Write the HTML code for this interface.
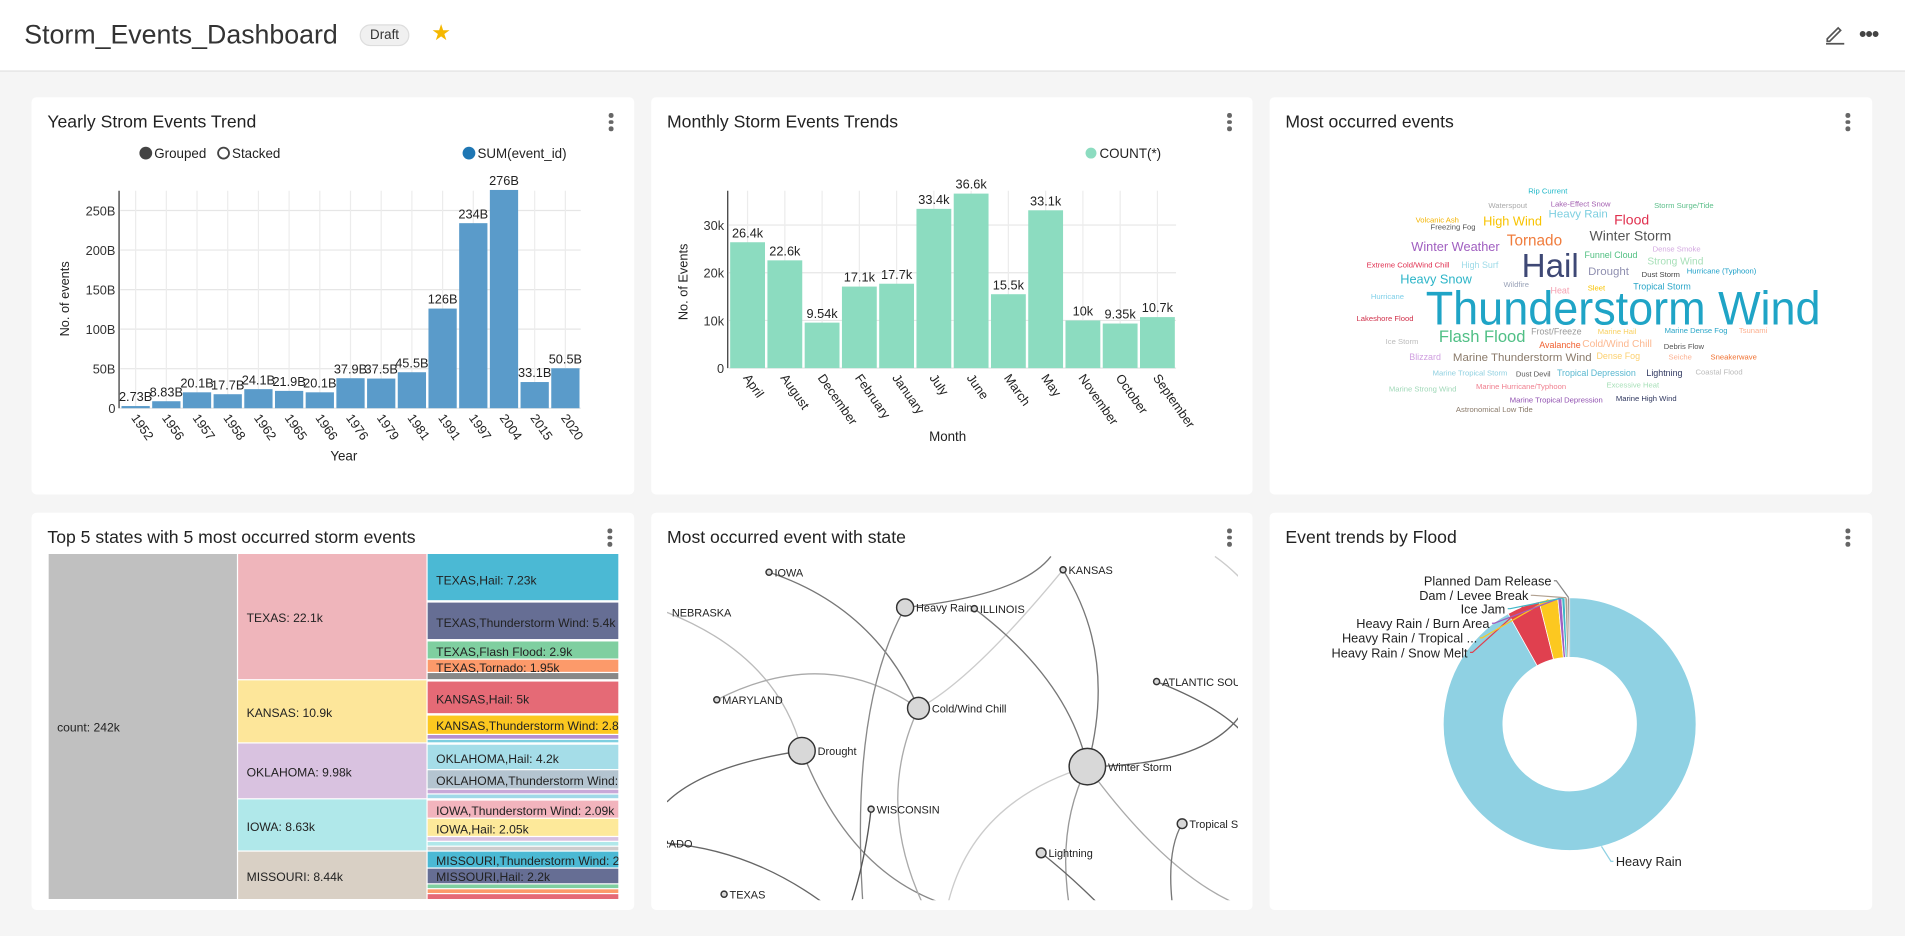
<!DOCTYPE html>
<html><head><meta charset="utf-8">
<style>
html,body{margin:0;padding:0;width:1905px;height:936px;overflow:hidden;background:#f5f5f5;font-family:"Liberation Sans",Arial,sans-serif;}
#root{position:absolute;left:0;top:0;width:1568px;height:770px;transform:scale(1.21492);transform-origin:0 0;background:#f5f5f5;}
.header{position:absolute;left:0;top:0;width:1568px;height:58px;background:#fff;border-bottom:1px solid #e0e0e0;}
.panel{position:absolute;background:#fff;border-radius:4px;}
.ptitle{position:absolute;left:13px;top:13px;font-size:14.5px;color:#222;}
.dots{position:absolute;top:13px;width:4px;}
.dots i{display:block;width:3.5px;height:3.5px;border-radius:50%;background:#666;margin-bottom:2px;}
svg text{font-family:"Liberation Sans",Arial,sans-serif;}
</style></head><body>
<div id="root">
<div class="header">
  <div style="position:absolute;left:20px;top:16px;font-size:22px;color:#333;">Storm_Events_Dashboard</div>
  <div style="position:absolute;left:296px;top:20px;width:41px;height:18px;border-radius:9px;background:#f0f0f0;border:1px solid #ddd;box-sizing:border-box;font-size:11px;color:#333;text-align:center;line-height:16px;">Draft</div>
  <div style="position:absolute;left:355px;top:17px;font-size:18px;color:#f5b800;">★</div>
  <svg style="position:absolute;left:1501px;top:19px" width="18" height="18"><path d="M3 13 L12 4 L14 6 L5 15 L3 15 Z" fill="none" stroke="#555" stroke-width="1.4"/><line x1="2" y1="17" x2="17" y2="17" stroke="#555" stroke-width="1.4"/></svg>
  <div style="position:absolute;left:1530px;top:18px;font-size:18px;color:#444;letter-spacing:-1px;">•••</div>
</div>

<div class="panel" style="left:26px;top:80px;width:496px;height:327px">
  <div class="ptitle">Yearly Strom Events Trend</div>
  <div class="dots" style="left:475px"><i></i><i></i><i></i></div>
</div>
<svg id="c1" style="position:absolute;left:0;top:0" width="1568" height="770"></svg>

<div class="panel" style="left:536px;top:80px;width:495px;height:327px">
  <div class="ptitle">Monthly Storm Events Trends</div>
  <div class="dots" style="left:474px"><i></i><i></i><i></i></div>
</div>
<svg id="c2" style="position:absolute;left:0;top:0" width="1568" height="770"></svg>

<div class="panel" style="left:1045px;top:80px;width:496px;height:327px">
  <div class="ptitle">Most occurred events</div>
  <div class="dots" style="left:474px"><i></i><i></i><i></i></div>
</div>
<svg id="c3" style="position:absolute;left:0;top:0" width="1568" height="770"></svg>

<div class="panel" style="left:26px;top:422px;width:496px;height:327px;overflow:hidden">
  <div class="ptitle">Top 5 states with 5 most occurred storm events</div>
  <div class="dots" style="left:474px"><i></i><i></i><i></i></div>
</div>
<svg id="c4" style="position:absolute;left:0;top:0" width="1568" height="770"></svg>

<div class="panel" style="left:536px;top:422px;width:495px;height:327px">
  <div class="ptitle">Most occurred event with state</div>
  <div class="dots" style="left:474px"><i></i><i></i><i></i></div>
</div>
<svg id="c5" style="position:absolute;left:0;top:0" width="1568" height="770"></svg>

<div class="panel" style="left:1045px;top:422px;width:496px;height:327px">
  <div class="ptitle">Event trends by Flood</div>
  <div class="dots" style="left:474px"><i></i><i></i><i></i></div>
</div>
<svg id="c6" style="position:absolute;left:0;top:0" width="1568" height="770"></svg>
</div>

<script>
const NS='http://www.w3.org/2000/svg';
function mk(svg,tag,attrs,txt){const e=document.createElementNS(NS,tag);for(const k in attrs)e.setAttribute(k,attrs[k]);if(txt!==undefined)e.textContent=txt;svg.appendChild(e);return e;}

const yearCats=['1952','1956','1957','1958','1962','1965','1966','1976','1979','1981','1991','1997','2004','2015','2020'];
const yearVals=[2.73,8.83,20.1,17.7,24.1,21.9,20.1,37.9,37.5,45.5,126,234,276,33.1,50.5];
const yearLabels=['2.73B','8.83B','20.1B','17.7B','24.1B','21.9B','20.1B','37.9B','37.5B','45.5B','126B','234B','276B','33.1B','50.5B'];
const yearTicks=[0,50,100,150,200,250];

const monthCats=['April','August','December','February','January','July','June','March','May','November','October','September'];
const monthVals=[26.4,22.6,9.54,17.1,17.7,33.4,36.6,15.5,33.1,10,9.35,10.7];
const monthLabels=['26.4k','22.6k','9.54k','17.1k','17.7k','33.4k','36.6k','15.5k','33.1k','10k','9.35k','10.7k'];
const monthTicks=[0,10,20,30];

const floodCats=['Heavy Rain','Heavy Rain / Snow Melt','Heavy Rain / Tropical ...','Heavy Rain / Burn Area','Ice Jam','Dam / Levee Break','Planned Dam Release'];
const floodVals=[92,4.2,2.4,0.5,0.4,0.35,0.25];

function barChart(svg,o){
  const {cats,vals,labels,ticks,x0,x1,y0,yTop,vmax,color,tickFmt}=o;
  const ys=v=>y0-(v/vmax)*(y0-yTop);
  const band=(x1-x0)/cats.length;
  const xs=i=>x0+i*band;
  ticks.forEach(t=>{
    const g=mk(svg,'line',{x1:x0,x2:x1,y1:ys(t),y2:ys(t),stroke:'#e6e6e6'});
    
    const tl=mk(svg,'text',{x:x0-4,y:ys(t)+4,'text-anchor':'end','font-size':10.5,fill:'#333'},tickFmt(t));
    
  });
  cats.forEach((c,i)=>{
    const gx=xs(i)+band/2;
    const vg=mk(svg,'line',{x1:gx,x2:gx,y1:yTop,y2:y0,stroke:'#ececec'});
    
  });
  cats.forEach((c,i)=>{
    const v=vals[i];
    const b=mk(svg,'rect',{x:xs(i)+1,y:ys(v),width:band-2,height:y0-ys(v),fill:color});
    
    const lb=mk(svg,'text',{x:xs(i)+band/2,y:ys(v)-4,'text-anchor':'middle','font-size':10.5,fill:'#222'},labels[i]);
    
    const cx=xs(i)+band/2-4, cy=y0+8;
    const xl=mk(svg,'text',{x:cx,y:cy,'font-size':10.5,fill:'#222',transform:`rotate(55 ${cx} ${cy})`},c);
    
  });
  const ax=mk(svg,'line',{x1:x0-1,x2:x0-1,y1:yTop,y2:y0,stroke:'#333'});
  
}

const c1=document.getElementById('c1');
barChart(c1,{cats:yearCats,vals:yearVals,labels:yearLabels,ticks:yearTicks,x0:99,x1:478,y0:336,yTop:157,vmax:275,color:'#5a9bca',tickFmt:t=>t===0?'0':t+'B'});
[['Grouped',116,'#444',true],['Stacked',180,'#444',false],['SUM(event_id)',382,'#1f77b4',true]].forEach(([t,x,c,f])=>{
  const ci=mk(c1,'circle',{cx:x+4,cy:126,r:4.5,fill:f?c:'#fff',stroke:c,'stroke-width':1.5});
  
  const tx=mk(c1,'text',{x:x+11,y:130,'font-size':11,fill:'#222'},t);
  
});
let t1=mk(c1,'text',{x:57,y:246,'font-size':10.5,fill:'#222','text-anchor':'middle',transform:'rotate(-90 57 246)'},'No. of events');

t1=mk(c1,'text',{x:283,y:379,'font-size':11,fill:'#222','text-anchor':'middle'},'Year');


const c2=document.getElementById('c2');
barChart(c2,{cats:monthCats,vals:monthVals,labels:monthLabels,ticks:monthTicks,x0:600,x1:968,y0:303,yTop:157,vmax:37.2,color:'#8cdcc0',tickFmt:t=>t===0?'0':t+'k'});
{const ci=mk(c2,'circle',{cx:898,cy:126,r:4.5,fill:'#8cdcc0'});
const tx=mk(c2,'text',{x:905,y:130,'font-size':11,fill:'#222'},'COUNT(*)');}
t1=mk(c2,'text',{x:566,y:232,'font-size':10.5,fill:'#222','text-anchor':'middle',transform:'rotate(-90 566 232)'},'No. of Events');

t1=mk(c2,'text',{x:780,y:363,'font-size':11,fill:'#222','text-anchor':'middle'},'Month');


const words=[
['Rip Current',1274,157,6,'#20b8c8'],['Waterspout',1241,169,6,'#aaa'],['Lake-Effect Snow',1301,168,6,'#a35fb0'],['Storm Surge/Tide',1386,169,6,'#5cbf8a'],
['Volcanic Ash',1183,181,6,'#f4b400'],['High Wind',1245,182,10,'#f8c300'],['Heavy Rain',1299,176,9,'#7ecfe0'],['Flood',1343,181,11,'#e0314f'],
['Freezing Fog',1196,187,6,'#555'],['Winter Storm',1342,194,11,'#555'],['Tornado',1263,198,12,'#f07c3c'],['Winter Weather',1198,203,10,'#a05fc0'],
['Dense Smoke',1380,205,6,'#d3a8e0'],['Funnel Cloud',1326,210,7,'#4fbf80'],['Hail',1276,219,26,'#3e4875'],['Strong Wind',1379,215,8,'#a6dfb7'],
['Extreme Cold/Wind Chill',1159,218,6,'#e03050'],['High Surf',1218,218,7,'#9edbe8'],['Drought',1324,223,9,'#8f8fb0'],['Dust Storm',1367,226,6,'#444'],
['Hurricane (Typhoon)',1417,223,6,'#1fa0c8'],['Heavy Snow',1182,230,10,'#2cb5c8'],['Wildfire',1248,234,6,'#9aa3b8'],['Heat',1284,239,7,'#f4a0b0'],
['Sleet',1314,237,6,'#f8c300'],['Tropical Storm',1368,236,7,'#2aa6c8'],['Hurricane',1142,244,6,'#7ecfe8'],['Thunderstorm Wind',1336,254,37,'#1fa4c6'],
['Lakeshore Flood',1140,262,6,'#d0304a'],['Flash Flood',1220,277,13,'#4fbf85'],['Frost/Freeze',1281,273,7,'#999'],['Marine Hail',1331,273,6,'#f8d060'],
['Marine Dense Fog',1396,272,6,'#2aa6c8'],['Tsunami',1443,272,6,'#fcb090'],['Ice Storm',1154,281,6,'#bbb'],['Avalanche',1284,284,7,'#f06030'],
['Cold/Wind Chill',1331,283,8,'#fcb890'],['Debris Flow',1386,285,6,'#555'],['Blizzard',1173,294,7,'#d0a0e0'],['Marine Thunderstorm Wind',1253,294,9,'#8a7a6a'],
['Dense Fog',1332,293,7,'#fcd070'],['Seiche',1383,294,6,'#fcb090'],['Sneakerwave',1427,294,6,'#f07030'],['Marine Tropical Storm',1210,307,6,'#8fd0e0'],
['Dust Devil',1262,308,6,'#555'],['Tropical Depression',1314,307,7,'#5ab8d0'],['Lightning',1370,307,7,'#303860'],['Coastal Flood',1415,306,6,'#bbb'],
['Marine Strong Wind',1171,320,6,'#a0d8b8'],['Marine Hurricane/Typhoon',1252,318,6,'#f08090'],['Excessive Heat',1344,317,6,'#a6dfb7'],
['Marine Tropical Depression',1281,329,6,'#9050b0'],['Marine High Wind',1355,328,6,'#303860'],['Astronomical Low Tide',1230,337,6,'#8a7a6a']];
const c3=document.getElementById('c3');
words.forEach(([t,x,y,s,c])=>{
  const e=mk(c3,'text',{x:x,y:y+s*0.35,'font-size':s*1.05,fill:c,'text-anchor':'middle'},t);
  if(t==='Thunderstorm Wind'){e.setAttribute('textLength',325);e.setAttribute('lengthAdjust','spacingAndGlyphs');}
  
});

const c4=document.getElementById('c4');
const tmRects=[
[40,456,155,284,'#c0c0c0','count: 242k',598],
[196,456,155,103,'#efb5bb','TEXAS: 22.1k',508],[196,560,155,51,'#fde69a','KANSAS: 10.9k',586],[196,612,155,45,'#d9c2e0','OKLAHOMA: 9.98k',635],
[196,658,155,42,'#b0e8ea','IOWA: 8.63k',680],[196,701,155,39,'#d9d0c5','MISSOURI: 8.44k',721],
[352,456,157,38,'#4bb9d4','TEXAS,Hail: 7.23k',477],[352,496,157,30,'#666e94','TEXAS,Thunderstorm Wind: 5.4k',512],[352,528,157,14,'#7fcfa0','TEXAS,Flash Flood: 2.9k',536],
[352,543,157,10,'#fc9a6a','TEXAS,Tornado: 1.95k',549],[352,554,157,5,'#888','',0],
[352,561,157,26,'#e56a76','KANSAS,Hail: 5k',575],[352,589,157,15,'#fcc820','KANSAS,Thunderstorm Wind: 2.88k',597],[352,605,157,3,'#b48fd0','',0],[352,609,157,2,'#7ecfe0','',0],
[352,613,157,20,'#a5dde8','OKLAHOMA,Hail: 4.2k',624],[352,634,157,15,'#b4c4d0','OKLAHOMA,Thunderstorm Wind: 2',642],[352,650,157,3,'#c8a8d8','',0],[352,654,157,3,'#a0d8e8','',0],
[352,659,157,14,'#f2b4bd','IOWA,Thunderstorm Wind: 2.09k',667],[352,674,157,14,'#fde99a','IOWA,Hail: 2.05k',682],[352,689,157,3,'#d9c2e0','',0],[352,693,157,3,'#b0e8ea','',0],[352,697,157,3,'#ccc','',0],
[352,701,157,13,'#4bb9d4','MISSOURI,Thunderstorm Wind: 2.3',708],[352,715,157,12,'#666e94','MISSOURI,Hail: 2.2k',721],[352,728,157,3,'#7fcfa0','',0],[352,732,157,3,'#fc9a6a','',0],[352,736,157,4,'#e56a76','',0]];
const clip=mk(c4,'clipPath',{id:'tmclip'});mk(clip,'rect',{x:40,y:456,width:469,height:284});
const tg=mk(c4,'g',{'clip-path':'url(#tmclip)'});
tmRects.forEach(([x,y,w,h,c,t,ty])=>{
  const r=mk(tg,'rect',{x:x,y:y,width:w,height:h,fill:c});
  
  if(t){const e=mk(tg,'text',{x:x+7,y:ty+4,'font-size':10,fill:'#222'},t);}
});

const c5=document.getElementById('c5');
const cl5=mk(c5,'clipPath',{id:'nwclip'});mk(cl5,'rect',{x:549,y:456,width:470,height:285});
const ng=mk(c5,'g',{'clip-path':'url(#nwclip)'});
const edges=[
['M633 471 Q720 500 756 583','#777'],['M549 504 Q640 540 660 618','#bbb'],['M590 576 Q680 530 756 583','#aaa'],['M745 500 Q700 580 710 740','#888'],
['M745 500 Q840 490 865 458','#777'],['M875 469 Q800 560 756 583','#ccc'],['M802 501 Q880 560 895 631','#777'],['M875 469 Q920 540 895 631','#777'],
['M660 618 Q580 630 549 660','#666'],['M660 618 Q700 720 780 745','#888'],['M756 583 Q720 660 760 745','#aaa'],['M717 666 Q712 710 700 745','#555'],
['M895 631 Q800 660 780 745','#ccc'],['M895 631 Q870 680 880 745','#999'],['M895 631 Q960 720 1020 745','#aaa'],['M895 631 Q990 630 1020 590','#666'],
['M952 561 Q1000 580 1020 600','#666'],['M973 678 Q960 700 965 745','#777'],['M857 702 Q880 720 905 745','#666'],['M549 694 Q620 700 680 745','#666'],
['M1000 458 Q1010 465 1020 475','#ccc']];
edges.forEach(([d,c])=>{const p=mk(ng,'path',{d:d,fill:'none',stroke:c,'stroke-width':1.1});});
const nodes=[['IOWA',633,471,2.5],['NEBRASKA',549,504,0],['Heavy Rain',745,500,7],['ILLINOIS',802,501,2.5],['KANSAS',875,469,2.5],['MARYLAND',590,576,2.5],
['Cold/Wind Chill',756,583,9],['ATLANTIC SOUT',952,561,2.5],['Drought',660,618,11],['Winter Storm',895,631,15],['WISCONSIN',717,666,2.5],['Tropical Sto',973,678,4],
['Lightning',857,702,4],['RADO',540,694,0],['TEXAS',596,736,2.5]];
nodes.forEach(([t,x,y,r])=>{
  if(r>0){const c=mk(ng,'circle',{cx:x,cy:y,r:r,fill:'#d8d8d8',stroke:'#333','stroke-width':1.2});}
  const e=mk(ng,'text',{x:x+Math.max(r,2)+2,y:y+3.5,'font-size':9,fill:'#222'},t);
});

const c6=document.getElementById('c6');
const floodColors=['#8fd1e3','#e0404f','#fcc820','#a05fc0','#40b8c8','#b0a090','#888'];
const cx=1292,cy=596,R=104,r0=55;
const tot=floodVals.reduce((a,b)=>a+b,0);
let a=0;
const mids=[];
floodVals.forEach((v,i)=>{
  const a0=a/tot*2*Math.PI,a1=(a+v)/tot*2*Math.PI;a+=v;
  const P=(ang,rr)=>[cx+rr*Math.sin(ang),cy-rr*Math.cos(ang)];
  const [x0,y0]=P(a0,R),[x1,y1]=P(a1,R),[x2,y2]=P(a1,r0),[x3,y3]=P(a0,r0);
  const lg=(a1-a0)>Math.PI?1:0;
  const p=mk(c6,'path',{d:`M${x0} ${y0} A${R} ${R} 0 ${lg} 1 ${x1} ${y1} L${x2} ${y2} A${r0} ${r0} 0 ${lg} 0 ${x3} ${y3} Z`,fill:floodColors[i],stroke:'#fff','stroke-width':0.6});
  
  mids.push((a0+a1)/2);
});
const lblPos=[[1330,712,'start'],[1208,540,'end'],[1216,528,'end'],[1226,516,'end'],[1239,504,'end'],[1258,493,'end'],[1277,481,'end']];
floodCats.forEach((c,i)=>{
  const [lx,ly,anc]=lblPos[i];const m=mids[i];
  const px=cx+R*Math.sin(m),py=cy-R*Math.cos(m);
  const sx=anc==='end'?lx+4:lx-4;
  const l=mk(c6,'polyline',{points:`${px},${py} ${sx},${ly-3} ${sx+(anc==='end'?-2:2)},${ly-3}`,fill:'none',stroke:floodColors[i],'stroke-width':1});
  
  const e=mk(c6,'text',{x:lx,y:ly+1,'font-size':10.5,fill:'#222','text-anchor':anc},c);
  
});
</script>
</body></html>
